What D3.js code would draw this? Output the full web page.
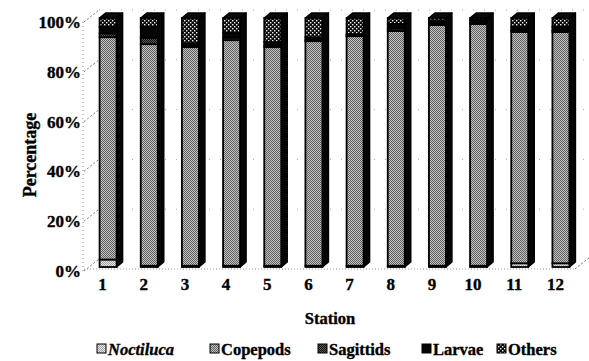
<!DOCTYPE html>
<html>
<head>
<meta charset="utf-8">
<script src="https://cdn.jsdelivr.net/npm/d3@7"></script>
<style>
  html, body { margin: 0; padding: 0; background: #fff; }
  svg { display: block; font-family: "Liberation Serif", "DejaVu Serif", serif; font-weight: bold; }
  svg text { stroke: #000; stroke-width: 0.35px; }
</style>
</head>
<body>
<svg id="chart" width="589" height="361"></svg>
<script>
// Percentage composition of zooplankton groups at each station
const stations  = ["1","2","3","4","5","6","7","8","9","10","11","12"];
const noctiluca = [3, 0.5, 0.5, 0.5, 0.5, 0.5, 0.5, 0.5, 0.5, 0.5, 1.5, 1.5];
const copepods  = [89.3, 89, 87.8, 90.6, 87.8, 90.2, 92.2, 94.3, 96.7, 97.1, 92.9, 92.9];
const sagittids = [1.5, 2.5, 0.6, 1, 0.7, 0.6, 0.3, 1, 0.6, 0.6, 0.7, 0.7];
const larvae    = [2.6, 4.4, 1, 1.9, 1.3, 1, 0.5, 1.8, 1, 1, 1.3, 1.3];
const others    = [3.6, 3.6, 10.1, 6.0, 9.7, 7.7, 6.5, 2.4, 1.2, 0.8, 3.6, 3.6];
const groups    = ["Noctiluca", "Copepods", "Sagittids", "Larvae", "Others"];
const yTicks    = [0, 20, 40, 60, 80, 100];

const rows = stations.map((s, i) => ({
  station: s,
  Noctiluca: noctiluca[i], Copepods: copepods[i], Sagittids: sagittids[i],
  Larvae: larvae[i], Others: others[i]
}));

const svg = d3.select("#chart");
const defs = svg.append("defs");

// halftone-like fills for each group
function checker(id, a, b, size) {
  const p = defs.append("pattern").attr("id", id).attr("patternUnits", "userSpaceOnUse")
    .attr("width", size * 2).attr("height", size * 2);
  p.append("rect").attr("width", size * 2).attr("height", size * 2).attr("fill", a);
  p.append("rect").attr("width", size).attr("height", size).attr("fill", b);
  p.append("rect").attr("x", size).attr("y", size).attr("width", size).attr("height", size).attr("fill", b);
}
checker("pNoct", "#e8e8e8", "#a0a0a0", 1);
checker("pCope", "#c4c4c4", "#5e5e5e", 1);
checker("pSag", "#5a5a5a", "#111", 1);
(function () {
  const p = defs.append("pattern").attr("id", "pOth").attr("patternUnits", "userSpaceOnUse")
    .attr("width", 4).attr("height", 4);
  p.append("rect").attr("width", 4).attr("height", 4).attr("fill", "#0c0c0c");
  p.append("rect").attr("x", 0).attr("y", 0).attr("width", 1.4).attr("height", 1.4).attr("fill", "#f2f2f2");
  p.append("rect").attr("x", 2).attr("y", 2).attr("width", 1.4).attr("height", 1.4).attr("fill", "#f2f2f2");
})();
const fills = {
  Noctiluca: "url(#pNoct)", Copepods: "url(#pCope)", Sagittids: "url(#pSag)",
  Larvae: "#050505", Others: "url(#pOth)"
};

// front-plane scales
const x = d3.scaleBand().domain(stations).range([82, 576]);
const y = d3.scaleLinear().domain([0, 100]).range([271, 22]);

// 3-D offsets: back wall, bar set-back and bar depth
const wall = { dx: 15, dy: -12 };
const setBack = { dx: 0, dy: -4 };
const depth = { dx: 6, dy: -5 };
const barW = 17;

// walls and floor
const grid = svg.append("g").attr("fill", "none");
grid.append("line").attr("x1", 83).attr("x2", 83).attr("y1", y(100)).attr("y2", y(0))
  .attr("stroke", "#888").attr("stroke-dasharray", "1,3");
yTicks.forEach(t => {
  grid.append("line").attr("x1", 84).attr("y1", y(t)).attr("x2", 84 + wall.dx).attr("y2", y(t) + wall.dy)
    .attr("stroke", "#777").attr("stroke-dasharray", "2,2");
  if (t > 0) {
    grid.append("line").attr("x1", 84 + wall.dx).attr("y1", y(t) + wall.dy).attr("x2", 584).attr("y2", y(t) + wall.dy)
      .attr("stroke", "#aaa").attr("stroke-dasharray", "1,10");
  }
});
grid.append("line").attr("x1", 84).attr("y1", y(0) - 2).attr("x2", 575).attr("y2", y(0) - 2)
  .attr("stroke", "#999").attr("stroke-dasharray", "1,2");
grid.append("line").attr("x1", 575).attr("y1", y(0) - 2).attr("x2", 575 + wall.dx).attr("y2", y(0) - 2 + wall.dy)
  .attr("stroke", "#666").attr("stroke-dasharray", "2,2");

// stacked 3-D columns
const series = d3.stack().keys(groups)(rows);
const bars = svg.append("g");
rows.forEach((r, i) => {
  const fx0 = x(r.station) + x.bandwidth() / 2 - 3 + setBack.dx;
  const fx1 = fx0 + barW;
  const g = bars.append("g");
  const topY = y(100) + setBack.dy;
  const botY = y(0) + setBack.dy;
  // side face
  g.append("path")
    .attr("d", `M${fx1},${botY} L${fx1 + depth.dx},${botY + depth.dy} L${fx1 + depth.dx},${topY + depth.dy} L${fx1},${topY} Z`)
    .attr("fill", "#060606").attr("stroke", "#000").attr("stroke-width", 1.5).attr("stroke-linejoin", "round");
  // top face
  g.append("path")
    .attr("d", `M${fx0},${topY} L${fx0 + depth.dx},${topY + depth.dy} L${fx1 + depth.dx},${topY + depth.dy} L${fx1},${topY} Z`)
    .attr("fill", "#0a0a0a").attr("stroke", "#000").attr("stroke-width", 1.5).attr("stroke-linejoin", "round");
  // front faces, one per group
  series.forEach(s => {
    const d = s[i];
    const y0 = y(d[0]) + setBack.dy, y1 = y(d[1]) + setBack.dy;
    g.append("rect")
      .attr("x", fx0).attr("y", y1).attr("width", barW).attr("height", Math.max(0, y0 - y1))
      .attr("fill", fills[s.key]).attr("stroke", "#000").attr("stroke-width", 1.8);
  });
});

// axes
const yAxis = svg.append("g").attr("transform", "translate(84,0)")
  .call(d3.axisLeft(y).tickValues(yTicks).tickFormat(d => d + "%").tickSize(0).tickPadding(3));
yAxis.select(".domain").remove();
yAxis.selectAll("text").attr("font-family", "Liberation Serif, serif").attr("font-weight", "bold")
  .attr("font-size", 17).attr("fill", "#000");

const xAxis = svg.append("g").attr("transform", `translate(0,${y(0)})`)
  .call(d3.axisBottom(x).tickSize(0).tickPadding(7));
xAxis.select(".domain").remove();
xAxis.selectAll("text").attr("font-family", "Liberation Serif, serif").attr("font-weight", "bold")
  .attr("font-size", 17).attr("fill", "#000");

// axis titles
svg.append("text").attr("transform", "translate(36,155) rotate(-90)")
  .attr("text-anchor", "middle").attr("font-size", 18).attr("fill", "#000").text("Percentage");
svg.append("text").attr("x", 330).attr("y", 324)
  .attr("text-anchor", "middle").attr("font-size", 16.5).attr("fill", "#000").text("Station");

// legend
const legendX = [97, 210, 318, 422, 497];
const lg = svg.append("g");
groups.forEach((k, i) => {
  const gx = legendX[i];
  lg.append("rect").attr("x", gx).attr("y", 344).attr("width", 9).attr("height", 9)
    .attr("fill", fills[k]).attr("stroke", "#000").attr("stroke-width", 1);
  lg.append("text").attr("x", gx + 11).attr("y", 354.5).attr("font-size", 16.5).attr("fill", "#000")
    .attr("font-style", k === "Noctiluca" ? "italic" : "normal").text(k);
});
</script>
</body>
</html>
